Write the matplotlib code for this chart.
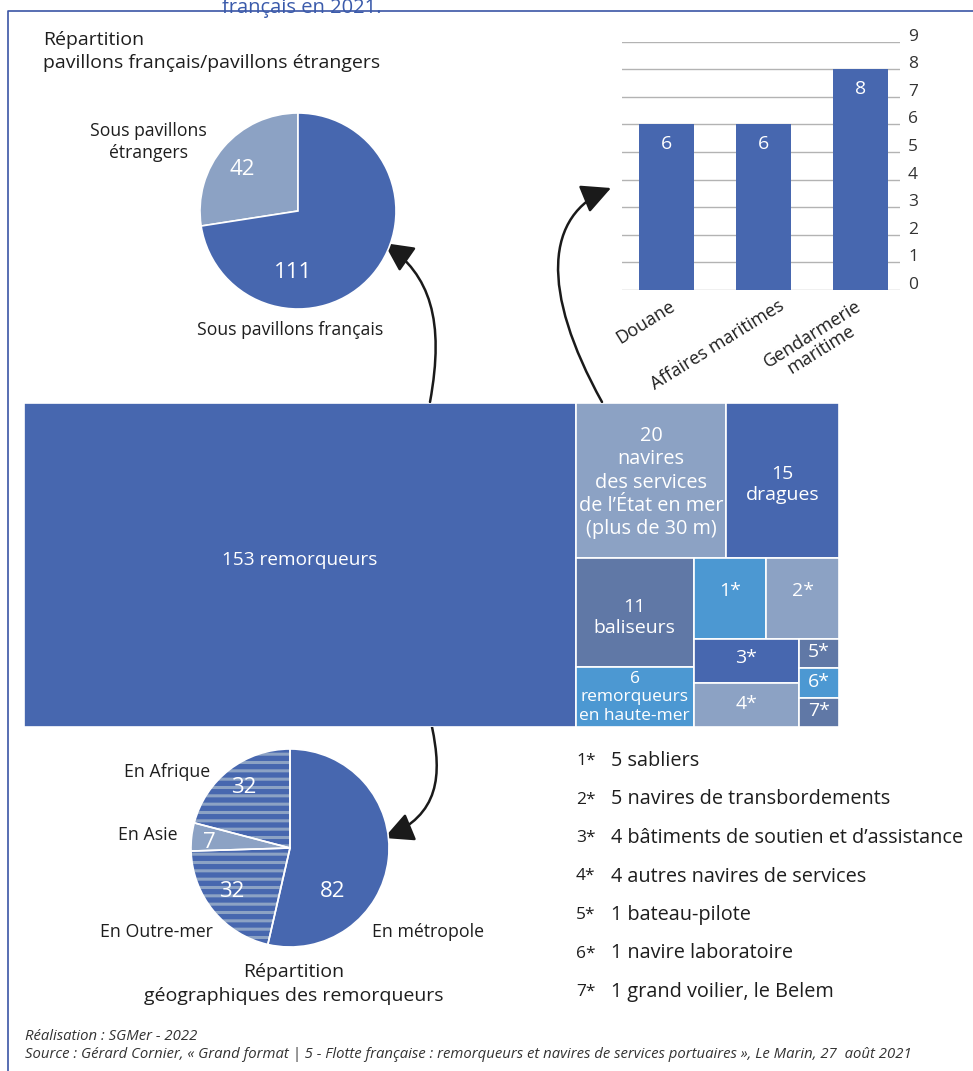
import matplotlib
matplotlib.use('Agg')
import matplotlib.pyplot as plt
from matplotlib.patches import Rectangle, FancyArrowPatch
from matplotlib.path import Path
from matplotlib.transforms import ScaledTranslation

plt.rcParams['font.family'] = ['Open Sans', 'DejaVu Sans']
plt.rcParams['hatch.linewidth'] = 2.2

# ---- data ----
tm_labels = ["153 remorqueurs",
             "20\nnavires\ndes services\nde l’État en mer\n(plus de 30 m)",
             "15\ndragues", "11\nbaliseurs",
             "6\nremorqueurs\nen haute-mer",
             "1*", "2*", "3*", "4*", "5*", "6*", "7*"]
tm_values = [153, 20, 15, 11, 6, 5, 5, 4, 4, 1, 1, 1]
tm_groups = [[0], [1, 2], [3, 4], [5, 6], [7, 8], [9, 10, 11]]

flag_labels = ["Sous pavillons\nétrangers", "Sous pavillons français"]
flag_values = [42, 111]

geo_labels = ["En Afrique", "En Asie", "En Outre-mer", "En métropole"]
geo_values = [32, 7, 32, 82]

state_labels = ["Douane", "Affaires maritimes", "Gendarmerie\nmaritime"]
state_values = [6, 6, 8]

legend_keys = ["1*", "2*", "3*", "4*", "5*", "6*", "7*"]
legend_texts = ["5 sabliers", "5 navires de transbordements",
                "4 bâtiments de soutien et d’assistance",
                "4 autres navires de services", "1 bateau-pilote",
                "1 navire laboratoire", "1 grand voilier, le Belem"]

# ---- colours ----
BLUE = '#4767af'
LIGHT = '#8ca2c4'
SLATE = '#6078a6'
BRIGHT = '#4c98d2'
TXT = '#1e1e1e'
tm_colors = [BLUE, LIGHT, BLUE, SLATE, BRIGHT, BRIGHT, LIGHT, BLUE, LIGHT,
             SLATE, BRIGHT, SLATE]
tm_sizes = [13.7, 14.3, 14, 14, 12.5, 14, 14, 14, 14, 14, 14, 14]
tm_dy = [-5, 2, 4, 5, 0, -7, -7, -3, -1, -1, -1, -1]   # label nudges, px

W, H = 973, 1071
fig = plt.figure(figsize=(W / 100, H / 100), dpi=100)


def frac_rect(x0, y0, w, h):
    return [x0 / W, 1 - (y0 + h) / H, w / W, h / H]


bg = fig.add_axes([0, 0, 1, 1])
bg.set_xlim(0, W)
bg.set_ylim(H, 0)
bg.axis('off')

# frame and clipped header
bg.plot([8, 8, W], [H, 11, 11], color='#3b55a5', lw=1.2)
bg.text(222, 13, "français en 2021.", color='#3b5bab', fontsize=14.5,
        va='baseline')


# ---- treemap (strip layout) ----
def strip_layout(values, groups, x, y, w, h):
    rects = {}
    remaining = float(sum(values))
    for gi, grp in enumerate(groups):
        gsum = float(sum(values[i] for i in grp))
        last = gi == len(groups) - 1
        if w >= h:
            gw = w * gsum / remaining
            yy = y
            for i in grp:
                ih = h * values[i] / gsum
                rects[i] = (x, yy, gw, ih)
                yy += ih
            x += gw
            w -= gw
        else:
            gh = h * gsum / remaining
            if last:
                yy = y
                for i in grp:
                    ih = h * values[i] / gsum
                    rects[i] = (x, yy, w, ih)
                    yy += ih
            else:
                xx = x
                for i in grp:
                    iw = w * values[i] / gsum
                    rects[i] = (xx, y, iw, gh)
                    xx += iw
            y += gh
            h -= gh
        remaining -= gsum
    return rects


TW, TH = 815, 324
tm = fig.add_axes(frac_rect(24, 403, TW, TH))
tm.set_xlim(0, TW)
tm.set_ylim(TH, 0)
tm.axis('off')
cells = strip_layout(tm_values, tm_groups, 0, 0, TW, TH)
for i, lab in enumerate(tm_labels):
    x, y, w, h = cells[i]
    tm.add_patch(Rectangle((x, y), w, h, facecolor=tm_colors[i],
                           edgecolor='white', lw=1.2))
    tm.text(x + w / 2, y + h / 2 + tm_dy[i], lab, ha='center', va='center',
            color='white', fontsize=tm_sizes[i], linespacing=1.22)

# ---- bar chart ----
bx = fig.add_axes(frac_rect(622, 41.7, 278, 248.3))
xs = list(range(len(state_values)))
bx.bar(xs, state_values, width=0.567, color=BLUE, zorder=3)
bx.set_ylim(0, 9)
bx.set_xlim(-0.459, 2.407)
bx.set_yticks(range(10))
bx.set_yticklabels([])
bx.tick_params(axis='y', length=0)
bx.set_xticks([])
bx.grid(axis='y', color='#b3b3b3', lw=1, zorder=0)
for s in bx.spines.values():
    s.set_visible(False)
ylab_tr = bx.get_yaxis_transform() + ScaledTranslation(8 / 100, 5 / 100,
                                                        fig.dpi_scale_trans)
for t in range(10):
    bx.text(1.0, t, str(t), transform=ylab_tr, ha='left', va='center',
            fontsize=12.5, color='#333333')
for i, v in enumerate(state_values):
    bx.annotate(str(v), (i, v), xytext=(0, -14.4), textcoords='offset points',
                ha='center', va='center', color='white', fontsize=14)
lab_dx = [2, 14, -6]
for i, name in enumerate(state_labels):
    tr = bx.transData + ScaledTranslation(lab_dx[i] / 100, -7 / 100,
                                          fig.dpi_scale_trans)
    bx.text(i, 0, name, transform=tr, rotation=32, ha='right', va='top',
            rotation_mode='anchor', multialignment='center', fontsize=13,
            color=TXT, linespacing=1.0)

# ---- upper pie ----
p1 = fig.add_axes(frac_rect(298 - 98, 211 - 98, 196, 196))
p1.pie(flag_values, colors=[LIGHT, BLUE], startangle=90,
       wedgeprops=dict(edgecolor='white', linewidth=1.2))
p1.set_xlim(-1, 1)
p1.set_ylim(-1, 1)
p1.text(-0.57, 0.42, str(flag_values[0]), color='white', fontsize=16,
        ha='center', va='center')
p1.text(-0.05, -0.63, str(flag_values[1]), color='white', fontsize=16,
        ha='center', va='center')
p1.text(-1.53, 0.70, flag_labels[0], ha='center', va='center', fontsize=12.7,
        color=TXT, linespacing=1.3)
p1.text(-0.08, -1.21, flag_labels[1], ha='center', va='center', fontsize=12.7,
        color=TXT)
bg.text(43, 31, "Répartition\npavillons français/pavillons étrangers",
        va='top', ha='left', fontsize=14, color=TXT, linespacing=1.38)

# ---- lower pie ----
p2 = fig.add_axes(frac_rect(290 - 99, 848 - 99, 198, 198))
geo_colors = [BLUE, LIGHT, BLUE, BLUE]
geo_hatch = ['--', None, '--', None]
wedges, _ = p2.pie(geo_values, colors=geo_colors, startangle=90,
                   wedgeprops=dict(linewidth=0))
for wd, hh in zip(wedges, geo_hatch):
    if hh:
        wd.set_hatch(hh)
        wd.set_edgecolor(LIGHT)
        wd.set_linewidth(0)
p2.pie(geo_values, colors=['none'] * 4, startangle=90,
       wedgeprops=dict(edgecolor='white', linewidth=1.2))
p2.set_xlim(-1, 1)
p2.set_ylim(-1, 1)
val_pos = [(-0.47, 0.61), (-0.81, 0.06), (-0.59, -0.44), (0.43, -0.44)]
lab_pos = [(-1.24, 0.77, 'center'), (-1.44, 0.13, 'center'),
           (-1.35, -0.85, 'center'), (0.83, -0.85, 'left')]
for v, (vx, vy), lab, (lx, ly, ha) in zip(geo_values, val_pos, geo_labels,
                                         lab_pos):
    p2.text(vx, vy, str(v), color='white', fontsize=16, ha='center',
            va='center')
    p2.text(lx, ly, lab, color=TXT, fontsize=12.8, ha=ha, va='center')
bg.text(294, 984, "Répartition\ngéographiques des remorqueurs", ha='center',
        va='center', fontsize=14, color=TXT, linespacing=1.42)

# ---- arrows ----
arrow_paths = [
    [(430, 402), (445, 320), (430, 275), (384, 243)],
    [(602, 402), (540, 290), (545, 215), (611, 188)],
    [(432, 727), (442, 775), (440, 815), (384, 838)],
]
for pts in arrow_paths:
    path = Path(pts, [Path.MOVETO, Path.CURVE4, Path.CURVE4, Path.CURVE4])
    ar = FancyArrowPatch(path=path,
                         arrowstyle='-|>,head_length=0.9,head_width=0.45',
                         mutation_scale=20, color='#1a1a1a', lw=1.8,
                         shrinkA=0, shrinkB=0)
    bg.add_patch(ar)

# ---- legend ----
for k, (key, txt) in enumerate(zip(legend_keys, legend_texts)):
    yy = 761 + k * 38.5
    bg.text(576, yy, key, fontsize=12.5, color=TXT, va='center')
    bg.text(611, yy, txt, fontsize=14.3, color=TXT, va='center')

# ---- footer ----
bg.text(25, 1036, "Réalisation : SGMer - 2022", fontsize=10.75, style='italic',
        color='#333333', va='center')
bg.text(25, 1054, "Source : Gérard Cornier, « Grand format | 5 - Flotte française : "
        "remorqueurs et navires de services portuaires », Le Marin, 27  août 2021",
        fontsize=10.75, style='italic', color='#333333', va='center')

fig.savefig('out.png', dpi=100)
